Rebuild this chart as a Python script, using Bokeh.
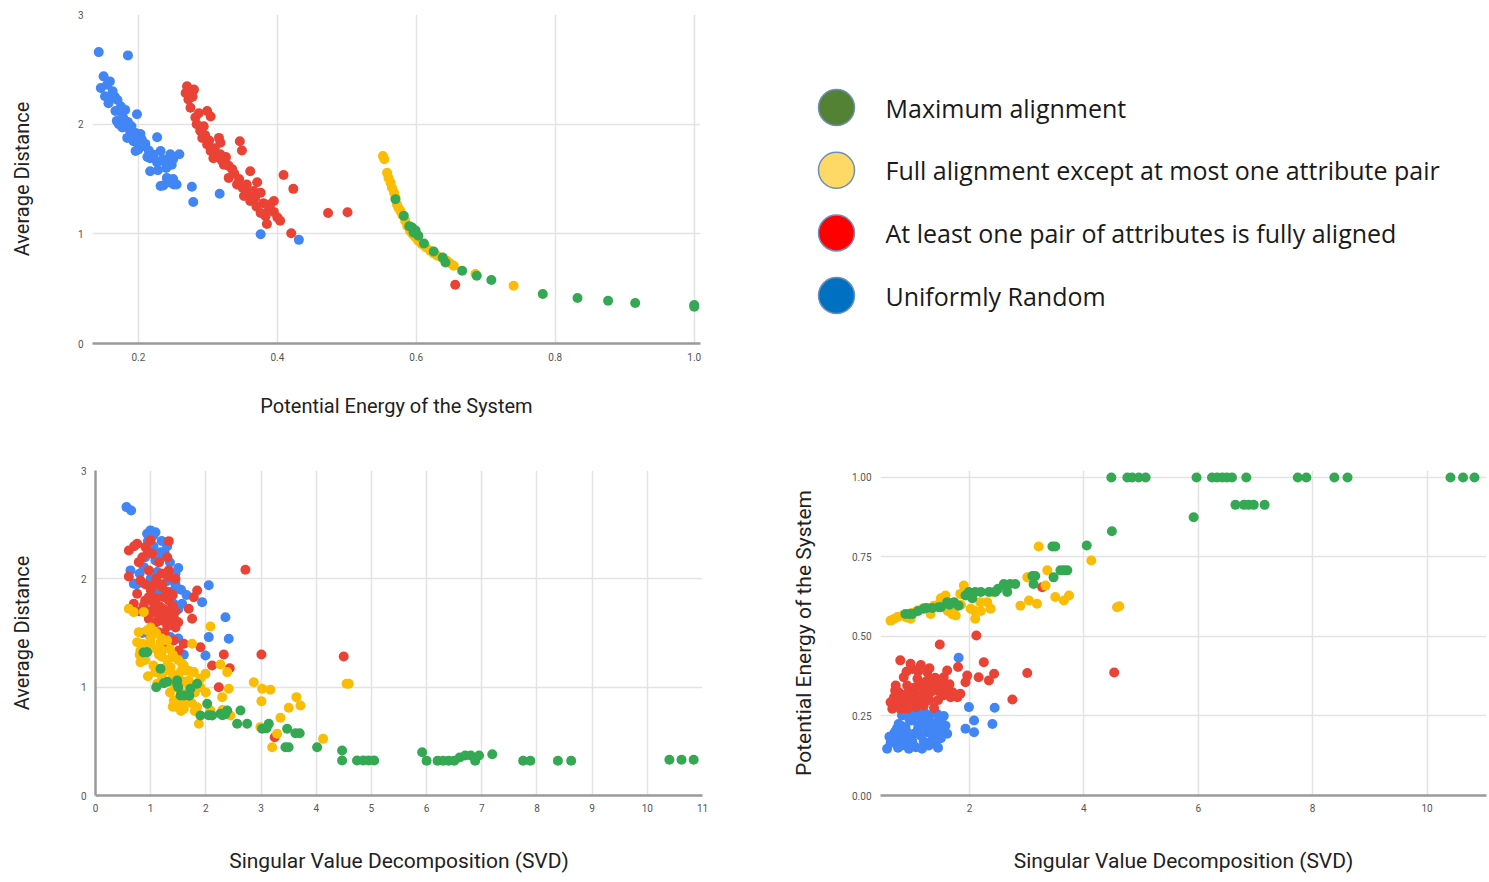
from bokeh.plotting import figure
from bokeh.layouts import column, row
from bokeh.models import Range1d, FixedTicker, NumeralTickFormatter
from bokeh.embed import file_html
from bokeh.resources import INLINE
from bokeh.core.properties import value

# ---------------- data ----------------
series_names = ["Maximum alignment",
                "Full alignment except at most one attribute pair",
                "At least one pair of attributes is fully aligned",
                "Uniformly Random"]

# Plot 1: Potential Energy (x) vs Average Distance (y)
p1_blue_x = [0.143, 0.185, 0.150, 0.159, 0.146, 0.152, 0.162, 0.157, 0.167, 0.181, 0.198, 0.169, 0.177, 0.172,
             0.188, 0.203, 0.184, 0.193, 0.227, 0.200, 0.196, 0.208, 0.232, 0.246, 0.259, 0.217, 0.227, 0.239,
             0.248, 0.217, 0.241, 0.232, 0.251, 0.245, 0.277, 0.279, 0.317, 0.376, 0.431, 0.155, 0.163, 0.170,
             0.175, 0.178, 0.185, 0.190, 0.196, 0.205, 0.210, 0.200, 0.215, 0.222, 0.235, 0.240, 0.244, 0.236,
             0.250, 0.166, 0.176, 0.190, 0.213, 0.228, 0.250, 0.255]
p1_blue_y = [2.657, 2.627, 2.436, 2.390, 2.330, 2.255, 2.270, 2.190, 2.120, 2.130, 2.090, 2.030, 1.970, 2.000,
             1.940, 1.910, 1.875, 1.845, 1.880, 1.770, 1.755, 1.800, 1.755, 1.725, 1.725, 1.690, 1.650, 1.650,
             1.630, 1.570, 1.510, 1.436, 1.450, 1.470, 1.430, 1.290, 1.366, 0.997, 0.945, 2.360, 2.300, 2.220,
             2.160, 2.060, 2.020, 1.980, 1.920, 1.860, 1.820, 1.830, 1.760, 1.720, 1.680, 1.600, 1.470, 1.440,
             1.500, 2.250, 2.100, 1.880, 1.700, 1.580, 1.680, 1.450]
p1_red_x = [0.270, 0.280, 0.268, 0.272, 0.275, 0.299, 0.304, 0.282, 0.284, 0.289, 0.292, 0.299, 0.316, 0.318,
            0.346, 0.349, 0.304, 0.308, 0.318, 0.323, 0.335, 0.330, 0.342, 0.361, 0.356, 0.371, 0.366, 0.352,
            0.376, 0.361, 0.390, 0.395, 0.376, 0.388, 0.404, 0.385, 0.409, 0.423, 0.420, 0.473, 0.501, 0.656,
            0.278, 0.287, 0.294, 0.296, 0.302, 0.310, 0.314, 0.320, 0.326, 0.330, 0.338, 0.345, 0.350, 0.360,
            0.368, 0.380, 0.370, 0.383, 0.395, 0.400, 0.310, 0.325]
p1_red_y = [2.345, 2.315, 2.285, 2.225, 2.150, 2.120, 2.070, 2.060, 2.000, 1.940, 1.875, 1.815, 1.875, 1.830,
            1.845, 1.760, 1.755, 1.690, 1.725, 1.630, 1.590, 1.510, 1.450, 1.570, 1.450, 1.470, 1.390, 1.345,
            1.375, 1.300, 1.270, 1.300, 1.190, 1.225, 1.120, 1.090, 1.536, 1.410, 1.006, 1.190, 1.197, 0.536,
            2.250, 2.100, 1.980, 1.900, 1.850, 1.780, 1.720, 1.670, 1.700, 1.620, 1.550, 1.500, 1.420, 1.380,
            1.330, 1.280, 1.250, 1.160, 1.200, 1.150, 1.700, 1.680]
p1_yellow_x = [0.552, 0.554, 0.558, 0.560, 0.563, 0.565, 0.568, 0.570, 0.572, 0.574, 0.577, 0.580, 0.584, 0.587,
               0.591, 0.595, 0.599, 0.603, 0.608, 0.614, 0.620, 0.625, 0.630, 0.637, 0.644, 0.649, 0.654, 0.685,
               0.740]
p1_yellow_y = [1.709, 1.680, 1.557, 1.510, 1.466, 1.420, 1.376, 1.330, 1.270, 1.240, 1.210, 1.170, 1.118, 1.070,
               1.027, 0.995, 0.966, 0.935, 0.906, 0.875, 0.845, 0.820, 0.800, 0.780, 0.755, 0.730, 0.709, 0.634,
               0.527]
p1_green_x = [0.570, 0.582, 0.594, 0.596, 0.603, 0.611, 0.625, 0.638, 0.642, 0.666, 0.687, 0.708, 0.782, 0.832,
              0.876, 0.915, 1.000, 1.000, 0.599, 0.590]
p1_green_y = [1.315, 1.164, 1.058, 1.012, 0.982, 0.912, 0.839, 0.785, 0.739, 0.664, 0.618, 0.579, 0.452, 0.415,
              0.390, 0.370, 0.336, 0.350, 1.030, 1.070]

# Plot 2: SVD (x) vs Average Distance (y)
p2_blue_x = [0.562, 0.646, 0.936, 1.087, 0.996, 1.178, 1.208, 1.087, 0.634, 0.875, 1.117, 1.449, 0.694, 1.117,
             1.418, 1.418, 1.570, 2.053, 1.932, 2.355, 2.053, 2.415, 1.993, 0.950, 1.050, 1.250, 1.350, 0.800,
             1.000, 1.300, 1.450, 1.200, 1.350, 1.500, 1.250, 0.936, 1.359, 1.500, 0.850, 1.600, 1.750,
             1.050, 1.200, 1.300, 0.900, 1.500, 0.750, 1.550, 1.650]
p2_blue_y = [2.662, 2.630, 2.416, 2.430, 2.447, 2.246, 2.200, 2.170, 2.078, 2.108, 2.062, 2.047, 1.955, 1.862,
             1.893, 1.770, 1.770, 1.940, 1.785, 1.646, 1.462, 1.447, 1.293, 2.350, 2.300, 2.250, 2.150, 2.050,
             2.000, 1.980, 1.950, 1.900, 1.850, 1.720, 1.650, 1.385, 1.462, 1.450, 1.500, 1.300, 1.000,
             2.400, 2.350, 2.300, 2.200, 2.100, 1.950, 1.900, 1.850]
p2_red_x = [1.328, 0.755, 0.906, 0.604, 0.996, 1.027, 0.785, 0.966, 1.328, 1.328, 0.604, 0.815, 1.057, 1.208,
            0.755, 0.966, 1.238, 0.694, 0.875, 1.178, 1.057, 1.298, 1.418, 0.966, 1.208, 1.328, 1.842, 1.781,
            1.690, 1.751, 2.717, 1.902, 2.325, 3.007, 4.498, 2.113, 2.433, 2.234, 3.248, 1.237, 1.418, 1.509,
            0.996, 1.147, 1.100, 1.300, 1.250, 1.450, 1.150, 1.350, 1.000, 0.900, 1.100, 1.200, 0.850, 1.400,
            1.500, 1.600, 1.200, 1.050, 1.150, 1.250, 1.350, 1.450, 1.300, 1.400, 1.100, 0.900, 0.800, 1.000,
            1.200, 1.450, 0.950, 1.150, 1.300, 0.700]
p2_red_y = [2.348, 2.324, 2.293, 2.262, 2.355, 2.232, 2.154, 2.078, 2.078, 2.016, 2.022, 1.985, 1.940, 1.923,
            1.862, 1.831, 1.831, 1.770, 1.754, 1.739, 1.693, 1.677, 1.646, 1.631, 1.616, 1.800, 1.893, 1.831,
            1.724, 1.631, 2.084, 1.369, 1.302, 1.302, 1.283, 1.200, 1.175, 1.000, 0.538, 1.369, 1.430, 1.339,
            1.462, 1.508, 1.600, 1.560, 1.500, 1.550, 1.750, 1.700, 1.900, 1.950, 2.000, 2.050, 2.200, 1.750,
            1.600, 1.400, 1.700, 1.780, 1.650, 1.720, 1.620, 1.700, 1.880, 1.850, 1.820, 1.800, 1.700, 1.700,
            1.950, 2.000, 2.250, 2.150, 2.200, 2.300]
p2_yellow_x = [0.604, 0.694, 0.875, 0.785, 0.936, 0.755, 0.815, 0.996, 1.178, 1.298, 1.208, 1.418, 1.570, 1.751,
               2.083, 0.815, 1.087, 1.359, 1.630, 1.781, 1.993, 1.117, 1.449, 1.690, 1.418, 1.540, 1.842, 1.873,
               2.264, 2.386, 2.415, 2.295, 2.868, 3.020, 3.170, 3.007, 3.641, 3.714, 3.502, 3.351, 2.989, 3.201,
               4.125, 4.589, 4.550, 2.446, 3.291, 2.083, 1.000, 1.100, 1.200, 1.300, 1.500, 1.600, 1.700, 1.900,
               1.400, 1.250, 1.550, 1.650, 1.450, 1.600, 1.750, 1.900, 2.000, 1.050, 0.900, 0.850, 1.350, 1.800,
               2.300, 1.000, 1.150, 1.350, 0.950, 1.250, 1.100, 1.200, 1.400, 1.300, 1.500, 1.600, 1.450, 1.550,
               1.700, 1.800, 1.350, 1.200, 0.800, 1.650, 1.500, 1.400, 1.550]
p2_yellow_y = [1.724, 1.693, 1.693, 1.508, 1.524, 1.415, 1.339, 1.400, 1.415, 1.430, 1.339, 1.277, 1.216, 1.400,
               1.560, 1.231, 1.139, 1.185, 1.154, 1.139, 1.123, 1.031, 1.000, 1.062, 0.877, 0.815, 0.815, 0.662,
               1.210, 1.139, 0.985, 0.908, 1.046, 0.985, 0.976, 0.871, 0.908, 0.831, 0.810, 0.717, 0.631, 0.446,
               0.523, 1.031, 1.031, 0.739, 0.570, 0.785, 1.450, 1.350, 1.280, 1.200, 1.100, 1.050, 1.150, 1.080,
               1.120, 1.050, 0.950, 0.900, 0.820, 0.800, 0.850, 1.000, 0.950, 1.200, 1.250, 1.400, 0.950, 0.780,
               0.790, 1.550, 1.300, 1.350, 1.100, 1.150, 1.500, 1.450, 1.300, 1.250, 1.250, 1.200, 1.050, 1.150,
               1.000, 0.950, 1.050, 1.100, 1.300, 0.880, 0.850, 0.820, 0.780]
p2_green_x = [0.936, 0.870, 1.178, 1.237, 1.480, 1.480, 1.540, 1.600, 1.721, 1.842, 2.024, 1.902, 2.113, 2.264,
              2.386, 2.627, 2.567, 2.748, 3.020, 3.140, 3.100, 3.473, 3.623, 3.700, 3.442, 3.500, 4.016, 4.469,
              4.469, 4.739, 4.850, 4.950, 5.050, 5.920, 6.000, 6.200, 6.300, 6.400, 6.500, 6.600, 6.700, 6.800,
              6.880, 6.950, 7.190, 7.750, 7.880, 8.380, 8.620, 10.400, 10.620, 10.840, 1.100, 1.300, 1.700, 2.300,
              1.500, 2.050, 2.350]
p2_green_y = [1.323, 1.320, 1.170, 1.037, 1.062, 1.031, 0.923, 0.923, 0.985, 1.031, 0.847, 0.739, 0.739, 0.754,
              0.785, 0.785, 0.662, 0.662, 0.616, 0.662, 0.620, 0.616, 0.575, 0.575, 0.446, 0.446, 0.446, 0.415,
              0.323, 0.323, 0.323, 0.323, 0.323, 0.400, 0.320, 0.320, 0.320, 0.320, 0.320, 0.350, 0.370, 0.370,
              0.320, 0.370, 0.380, 0.320, 0.320, 0.320, 0.320, 0.330, 0.330, 0.330, 1.000, 1.050, 0.920, 0.740,
              1.000, 0.740, 0.750]

# Plot 3: SVD (x) vs Potential Energy (y)
p3_blue_x = [1.81, 1.99, 2.44, 2.08, 2.40, 1.93, 2.08, 1.61, 0.56, 0.71, 0.82, 0.94, 1.06, 1.17, 1.29, 1.41,
             0.68, 0.79, 0.91, 1.03, 1.14, 1.26, 1.38, 1.49, 0.76, 0.88, 0.99, 1.11, 1.23, 1.35, 1.46, 1.58,
             0.82, 0.99, 1.14, 1.29, 1.43, 1.52, 0.62, 0.65, 0.73, 0.85, 1.00, 1.20, 1.35, 1.50, 0.90, 1.10,
             1.30, 0.95, 1.20, 0.70, 0.80, 0.95, 1.05, 1.15, 1.25, 1.40, 1.55, 0.60, 0.75, 1.00, 1.25, 1.45,
             1.30, 1.50]
p3_blue_y = [0.433, 0.278, 0.276, 0.236, 0.225, 0.210, 0.199, 0.194, 0.147, 0.168, 0.157, 0.147, 0.152, 0.147,
             0.157, 0.163, 0.194, 0.189, 0.183, 0.194, 0.189, 0.199, 0.194, 0.199, 0.225, 0.215, 0.236, 0.220,
             0.230, 0.225, 0.236, 0.220, 0.252, 0.257, 0.246, 0.252, 0.257, 0.246, 0.165, 0.180, 0.210, 0.170,
             0.170, 0.170, 0.175, 0.180, 0.200, 0.210, 0.210, 0.270, 0.265, 0.200, 0.220, 0.240, 0.260, 0.220,
             0.245, 0.210, 0.250, 0.185, 0.150, 0.160, 0.165, 0.150, 0.235, 0.225]
p3_red_x = [2.12, 1.48, 0.79, 0.97, 1.00, 2.25, 3.01, 1.80, 2.43, 2.34, 2.16, 1.96, 1.93, 1.61, 1.55, 1.70,
            1.84, 1.79, 2.75, 1.26, 1.32, 1.38, 1.44, 1.09, 1.14, 1.20, 0.85, 0.91, 0.71, 0.76, 0.68, 0.62,
            0.74, 0.85, 0.97, 1.09, 1.20, 1.32, 1.44, 1.52, 0.65, 0.79, 0.91, 1.06, 1.20, 1.38, 1.67, 4.53,
            3.27, 1.00, 1.15, 1.30, 0.80, 1.25, 1.40, 1.50, 1.10, 0.70, 0.90, 1.05, 1.20, 1.35, 1.45, 1.60,
            1.00, 1.25, 1.55, 0.90, 1.15, 1.30, 1.65]
p3_red_y = [0.503, 0.475, 0.425, 0.414, 0.398, 0.419, 0.385, 0.404, 0.383, 0.362, 0.372, 0.377, 0.356, 0.393,
            0.372, 0.325, 0.320, 0.309, 0.302, 0.388, 0.367, 0.351, 0.341, 0.367, 0.351, 0.336, 0.372, 0.346,
            0.346, 0.325, 0.309, 0.293, 0.288, 0.293, 0.304, 0.314, 0.320, 0.325, 0.330, 0.341, 0.273, 0.273,
            0.273, 0.278, 0.283, 0.275, 0.309, 0.387, 0.655, 0.330, 0.300, 0.300, 0.310, 0.360, 0.370, 0.360,
            0.390, 0.330, 0.320, 0.340, 0.350, 0.340, 0.300, 0.330, 0.290, 0.310, 0.315, 0.390, 0.410, 0.400,
            0.350]
p3_yellow_x = [3.21, 4.13, 3.36, 3.33, 3.01, 3.74, 3.50, 3.65, 2.89, 3.04, 3.18, 4.58, 4.62, 2.31, 2.37, 2.08,
               2.10, 1.90, 1.84, 1.58, 1.38, 1.73, 1.32, 1.09, 0.83, 0.74, 0.62, 0.97, 1.76, 2.02, 2.19, 1.50,
               1.45, 1.20, 1.00, 0.90, 1.62, 1.85, 2.40, 2.20, 1.55, 1.70, 0.68]
p3_yellow_y = [0.783, 0.739, 0.708, 0.660, 0.686, 0.629, 0.624, 0.613, 0.597, 0.613, 0.603, 0.592, 0.595, 0.608,
               0.587, 0.582, 0.556, 0.660, 0.634, 0.629, 0.597, 0.592, 0.571, 0.582, 0.566, 0.561, 0.550, 0.556,
               0.566, 0.587, 0.608, 0.620, 0.600, 0.590, 0.575, 0.560, 0.580, 0.600, 0.640, 0.580, 0.610, 0.570,
               0.555]
p3_green_x = [4.48, 4.76, 4.845, 4.96, 5.08, 5.97, 6.24, 6.33, 6.42, 6.50, 6.59, 6.84, 7.74, 7.89, 8.38, 8.61,
              10.41, 10.63, 10.83, 6.65, 6.80, 6.88, 6.97, 7.16, 5.92, 4.49, 4.05, 3.45, 3.50, 3.59, 3.71, 3.65,
              3.47, 3.10, 3.15, 3.12, 2.60, 2.71, 2.80, 2.66, 1.99, 2.10, 2.20, 2.34, 2.45, 1.93, 1.61, 1.73,
              1.81, 1.46, 1.50, 1.20, 1.25, 0.88, 0.95, 1.00, 1.10, 1.35, 1.65, 2.05, 2.50]
p3_green_y = [1.000, 1.000, 1.000, 1.000, 1.000, 1.000, 1.000, 1.000, 1.000, 1.000, 1.000, 1.000, 1.000, 1.000,
              1.000, 1.000, 1.000, 1.000, 1.000, 0.914, 0.914, 0.914, 0.914, 0.914, 0.875, 0.831, 0.786, 0.783,
              0.783, 0.708, 0.708, 0.708, 0.686, 0.690, 0.690, 0.665, 0.665, 0.665, 0.665, 0.640, 0.640, 0.640,
              0.640, 0.640, 0.640, 0.629, 0.608, 0.608, 0.597, 0.592, 0.592, 0.587, 0.590, 0.571, 0.571, 0.571,
              0.580, 0.590, 0.600, 0.620, 0.650]

p1_xticks = [0.2, 0.4, 0.6, 0.8, 1.0]
p2_xticks = [0, 1, 2, 3, 4, 5, 6, 7, 8, 9, 10, 11]
p3_xticks = [2, 4, 6, 8, 10]
ad_yticks = [0, 1, 2, 3]
pe_yticks = [0, 0.25, 0.5, 0.75, 1.0]

# ---------------- style ----------------
BLUE, RED, YEL, GRN = "#4285F4", "#EA4335", "#FBBC04", "#34A853"
LEG_COLORS = ["#548235", "#FFD966", "#FF0000", "#0070C0"]
FONT = "Roboto"
DOT = 10


def make_fig(fw, fh, xr, yr, bl, br, bt, bb):
    p = figure(frame_width=fw, frame_height=fh, x_range=Range1d(*xr), y_range=Range1d(*yr),
               output_backend="svg", toolbar_location=None,
               min_border_left=bl, min_border_right=br, min_border_top=bt, min_border_bottom=bb)
    p.outline_line_color = None
    p.background_fill_color = "white"
    p.border_fill_color = "white"
    for ax in (p.xaxis[0], p.yaxis[0]):
        ax.major_tick_line_color = None
        ax.minor_tick_line_color = None
        ax.major_label_text_font = FONT
        ax.major_label_text_font_size = "10px"
        ax.major_label_text_color = "#555555"
        ax.axis_label_text_font = FONT
        ax.axis_label_text_font_size = "20px"
        ax.axis_label_text_font_style = "normal"
        ax.axis_label_text_color = "#222222"
    p.grid.grid_line_color = "#e3e3e3"
    p.grid.grid_line_width = 1.5
    p.xaxis.axis_line_color = "#9a9a9a"
    p.xaxis.axis_line_width = 2.5
    p.yaxis.axis_line_color = None
    return p


def dots(p, xs, ys, c):
    p.scatter(xs, ys, size=DOT, fill_color=c, line_color=None)


TOP1, FH1, BOT1 = 14, 329, 77
TOP2, FH2, BOT2 = 50, 325, 80

# Plot 1 (page: frame x 92..700, y 14..343)
p1 = make_fig(608, FH1, (0.134, 1.009), (0, 3), 92, 12, TOP1, BOT1)
p1.xaxis.ticker = FixedTicker(ticks=p1_xticks)
p1.xaxis.formatter = NumeralTickFormatter(format="0.0")
p1.yaxis.ticker = FixedTicker(ticks=ad_yticks)
p1.xgrid.ticker = FixedTicker(ticks=p1_xticks)
p1.ygrid.ticker = FixedTicker(ticks=ad_yticks)
p1.xaxis.axis_label = "Potential Energy of the System"
p1.yaxis.axis_label = "Average Distance"
p1.xaxis.major_label_standoff = 3
p1.xaxis.axis_label_standoff = 30
p1.yaxis.major_label_standoff = 3
p1.yaxis.axis_label_standoff = 41
dots(p1, p1_blue_x, p1_blue_y, BLUE)
dots(p1, p1_red_x, p1_red_y, RED)
dots(p1, p1_yellow_x, p1_yellow_y, YEL)
dots(p1, p1_green_x, p1_green_y, GRN)

# Legend panel: frame given page-pixel ranges (x 712..1488, y 14..343)
LX0, LW = 712, 776
leg = figure(frame_width=LW, frame_height=FH1, x_range=Range1d(LX0, LX0 + LW),
             y_range=Range1d(TOP1 + FH1, TOP1),
             output_backend="svg", toolbar_location=None,
             min_border_left=0, min_border_right=0, min_border_top=TOP1, min_border_bottom=BOT1)
leg.axis.visible = False
leg.grid.visible = False
leg.outline_line_color = None
leg.border_fill_color = "white"
leg_y = [107 + 62.7 * i for i in range(4)]
leg.scatter([836] * 4, leg_y, size=36, fill_color=LEG_COLORS, line_color="#6F8FB8", line_width=1.5)
leg.text([885] * 4, leg_y, text=series_names, text_font=value("Open Sans"), text_font_size="25px",
         text_baseline="middle", text_align="left", text_color="#1a1a1a")

# Plot 2 (page: frame x 95..702, y 470..795)
p2 = make_fig(607, FH2, (0, 11), (0, 3), 95, 46, TOP2, BOT2)
p2.xaxis.ticker = FixedTicker(ticks=p2_xticks)
p2.yaxis.ticker = FixedTicker(ticks=ad_yticks)
p2.xgrid.ticker = FixedTicker(ticks=p2_xticks)
p2.ygrid.ticker = FixedTicker(ticks=ad_yticks)
p2.yaxis.axis_line_color = "#9a9a9a"
p2.yaxis.axis_line_width = 2.5
p2.xaxis.axis_label = "Singular Value Decomposition (SVD)"
p2.yaxis.axis_label = "Average Distance"
p2.xaxis.axis_label_text_font_size = "21px"
p2.xaxis.major_label_standoff = 2
p2.xaxis.axis_label_standoff = 34
p2.yaxis.major_label_standoff = 3
p2.yaxis.axis_label_standoff = 44
dots(p2, p2_blue_x, p2_blue_y, BLUE)
dots(p2, p2_red_x, p2_red_y, RED)
dots(p2, p2_yellow_x, p2_yellow_y, YEL)
dots(p2, p2_green_x, p2_green_y, GRN)

# Plot 3 (page: frame x 880..1486, y 470..795)
p3 = make_fig(606, FH2, (0.444, 11.04), (0, 1.022), 132, 2, TOP2, BOT2)
p3.xaxis.ticker = FixedTicker(ticks=p3_xticks)
p3.yaxis.ticker = FixedTicker(ticks=pe_yticks)
p3.yaxis.formatter = NumeralTickFormatter(format="0.00")
p3.xgrid.ticker = FixedTicker(ticks=p3_xticks)
p3.ygrid.ticker = FixedTicker(ticks=pe_yticks)
p3.xaxis.axis_label = "Singular Value Decomposition (SVD)"
p3.yaxis.axis_label = "Potential Energy of the System"
p3.xaxis.axis_label_text_font_size = "21px"
p3.yaxis.axis_label_text_font_size = "21px"
p3.xaxis.major_label_standoff = 2
p3.xaxis.axis_label_standoff = 34
p3.yaxis.major_label_standoff = 3
p3.yaxis.axis_label_standoff = 33
dots(p3, p3_blue_x, p3_blue_y, BLUE)
dots(p3, p3_red_x, p3_red_y, RED)
dots(p3, p3_yellow_x, p3_yellow_y, YEL)
dots(p3, p3_green_x, p3_green_y, GRN)

layout = column(row(p1, leg), row(p2, p3))
open("out.html", "w").write(file_html(layout, INLINE))
